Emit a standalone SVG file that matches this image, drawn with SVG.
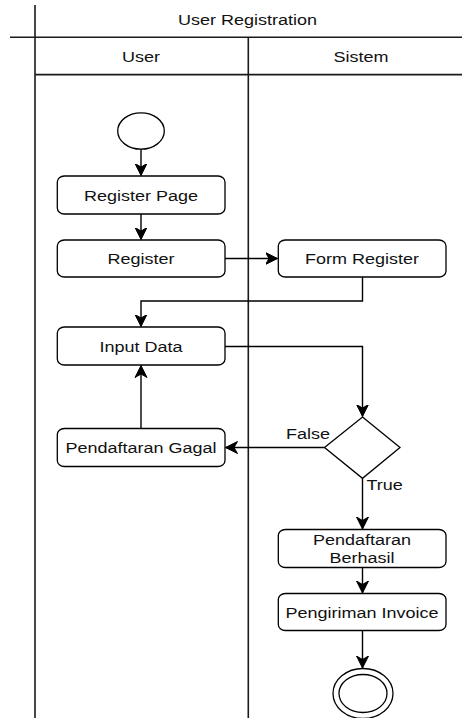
<svg xmlns="http://www.w3.org/2000/svg" width="462" height="718" viewBox="0 0 462 718">
<style>
.lane{stroke:#1a1a1a;stroke-width:1.6;fill:none}
.box{fill:#fff;stroke:#000;stroke-width:1.3}
.edge{stroke:#000;stroke-width:1.4;fill:none}
.t{font-family:"Liberation Sans",Arial,sans-serif;font-size:15px;fill:#111;text-anchor:middle}
.te{text-anchor:end}
.ts{text-anchor:start}
</style>
<defs>
<marker id="arr" markerUnits="userSpaceOnUse" markerWidth="14" markerHeight="14" viewBox="-12 -7 14 14" refX="0" refY="0" orient="auto">
<path d="M0,0 L-12,-6 L-8.5,0 L-12,6 Z" fill="#000" stroke="#000" stroke-width="1"/>
</marker>
</defs>
<rect width="462" height="718" fill="#fff"/>
<g id="swimlanes">
<line class="lane" x1="35" y1="5" x2="35" y2="718"/>
<line class="lane" x1="10" y1="37.3" x2="462" y2="37.3"/>
<line class="lane" x1="248.3" y1="37.3" x2="248.3" y2="718"/>
<line class="lane" x1="35" y1="74.6" x2="462" y2="74.6"/>
<text class="t" transform="translate(247.5,24.5) scale(1.2,1)">User Registration</text>
<text class="t" transform="translate(141,61.5) scale(1.2,1)">User</text>
<text class="t" transform="translate(361,61.5) scale(1.2,1)">Sistem</text>
</g>
<g id="connectors">
<line class="edge" x1="141" y1="149" x2="141" y2="175.5" marker-end="url(#arr)"/>
<line class="edge" x1="141" y1="214" x2="141" y2="239.5" marker-end="url(#arr)"/>
<line class="edge" x1="225" y1="258.5" x2="277.5" y2="258.5" marker-end="url(#arr)"/>
<polyline class="edge" points="362.5,277 362.5,301 141,301 141,326.5" marker-end="url(#arr)"/>
<polyline class="edge" points="225,346.5 362.5,346.5 362.5,416.5" marker-end="url(#arr)"/>
<line class="edge" x1="324.5" y1="447.5" x2="225.5" y2="447.5" marker-end="url(#arr)"/>
<line class="edge" x1="141" y1="428.5" x2="141" y2="365.5" marker-end="url(#arr)"/>
<line class="edge" x1="362.5" y1="478.5" x2="362.5" y2="529" marker-end="url(#arr)"/>
<line class="edge" x1="362.5" y1="567.5" x2="362.5" y2="593" marker-end="url(#arr)"/>
<line class="edge" x1="362.5" y1="630.5" x2="362.5" y2="668" marker-end="url(#arr)"/>
<text class="t te" transform="translate(330,439.3) scale(1.2,1)">False</text>
<text class="t ts" transform="translate(366.5,489.5) scale(1.2,1)">True</text>
</g>
<g id="start">
<ellipse class="box" cx="141" cy="131" rx="23.3" ry="18.2"/>
</g>
<g id="register-page">
<rect class="box" x="57.3" y="176" width="167.7" height="38" rx="7" ry="6"/>
<text class="t" transform="translate(141,200.5) scale(1.2,1)">Register Page</text>
</g>
<g id="register">
<rect class="box" x="57.3" y="240" width="167.7" height="37" rx="7" ry="6"/>
<text class="t" transform="translate(141,264) scale(1.2,1)">Register</text>
</g>
<g id="form-register">
<rect class="box" x="278.3" y="240" width="167.7" height="37" rx="7" ry="6"/>
<text class="t" transform="translate(362,264) scale(1.2,1)">Form Register</text>
</g>
<g id="input-data">
<rect class="box" x="57.3" y="327" width="167.7" height="38" rx="7" ry="6"/>
<text class="t" transform="translate(141,351.5) scale(1.2,1)">Input Data</text>
</g>
<g id="decision">
<polygon class="box" points="362.5,417 400,447.6 362.5,478.3 324.5,447.6"/>
</g>
<g id="pendaftaran-gagal">
<rect class="box" x="57.3" y="428.5" width="167.7" height="38" rx="7" ry="6"/>
<text class="t" transform="translate(141,453) scale(1.2,1)">Pendaftaran Gagal</text>
</g>
<g id="pendaftaran-berhasil">
<rect class="box" x="278.3" y="529.5" width="167.7" height="38" rx="7" ry="6"/>
<text class="t" transform="translate(362,545) scale(1.2,1)">Pendaftaran</text>
<text class="t" transform="translate(362,562.5) scale(1.2,1)">Berhasil</text>
</g>
<g id="pengiriman-invoice">
<rect class="box" x="278.3" y="593.5" width="167.7" height="37" rx="7" ry="6"/>
<text class="t" transform="translate(362,617.5) scale(1.2,1)">Pengiriman Invoice</text>
</g>
<g id="end">
<ellipse class="box" cx="363" cy="693.5" rx="30" ry="25"/>
<ellipse class="box" cx="363" cy="693.5" rx="24" ry="19"/>
</g>
</svg>
